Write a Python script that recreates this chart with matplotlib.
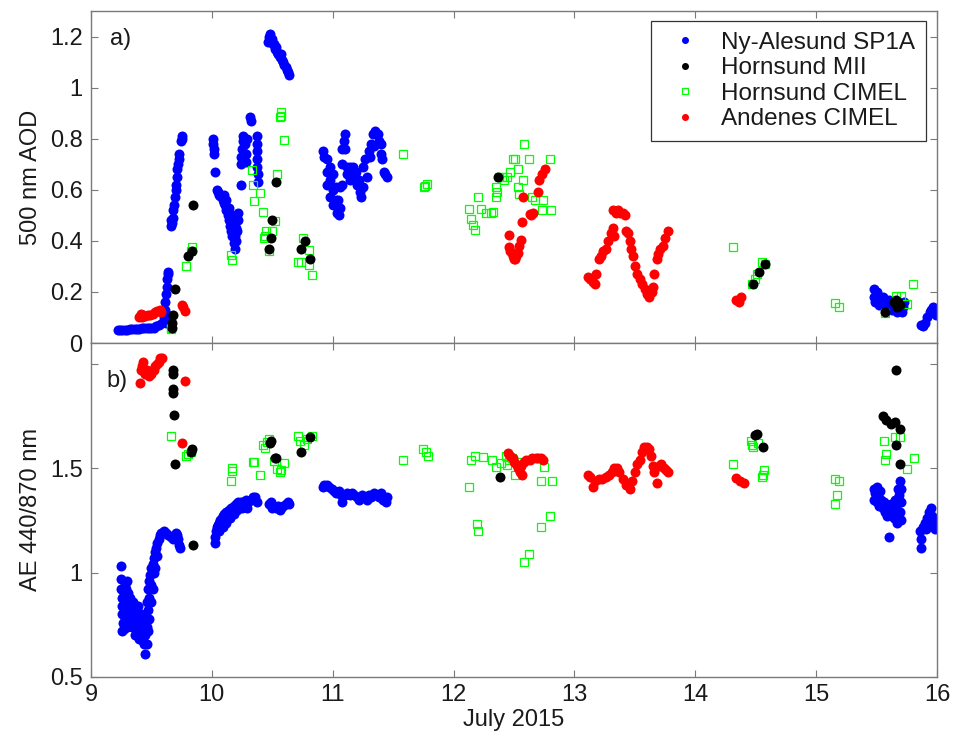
import matplotlib
matplotlib.use('Agg')
import matplotlib.pyplot as plt

plt.rcParams['font.family'] = ['Liberation Sans', 'DejaVu Sans']
plt.rcParams['font.size'] = 17

# (day of July 2015, 500 nm AOD)
ny_aod = [
    (9.22, .05), (9.24, .05), (9.26, .05), (9.28, .05), (9.30, .05), (9.32, .055),
    (9.34, .055), (9.36, .055), (9.38, .055), (9.40, .055), (9.42, .06), (9.44, .06),
    (9.46, .06), (9.48, .06), (9.50, .06), (9.52, .06), (9.54, .065), (9.56, .07),
    (9.585, .08), (9.60, .10), (9.61, .13), (9.615, .16), (9.62, .19), (9.625, .22),
    (9.63, .25), (9.635, .27), (9.64, .28), (9.62, .08), (9.63, .11),
    (9.66, .46), (9.665, .48), (9.67, .47), (9.675, .49), (9.68, .52), (9.69, .54),
    (9.695, .57), (9.70, .60), (9.705, .62), (9.71, .65), (9.715, .68), (9.72, .70),
    (9.725, .72), (9.73, .74), (9.745, .79), (9.75, .81), (9.755, .80),
    (10.01, .80), (10.01, .78), (10.015, .76), (10.02, .74), (10.025, .67),
    (10.04, .60), (10.05, .59), (10.06, .58), (10.07, .575), (10.08, .57), (10.09, .56),
    (10.10, .55), (10.11, .54), (10.12, .52), (10.13, .50), (10.14, .48), (10.15, .46),
    (10.16, .44), (10.17, .42), (10.18, .39), (10.19, .37), (10.20, .40), (10.21, .44),
    (10.215, .48), (10.22, .51), (10.10, .58), (10.12, .56), (10.14, .53), (10.16, .50),
    (10.18, .47), (10.20, .45), (10.19, .42), (10.24, .62),
    (10.24, .70), (10.245, .73), (10.25, .76), (10.255, .79), (10.26, .81), (10.27, .78),
    (10.28, .74), (10.285, .71), (10.29, .80), (10.315, .885), (10.32, .87),
    (10.37, .81), (10.37, .78), (10.375, .75), (10.37, .72), (10.375, .69), (10.38, .66),
    (10.38, .63),
    (10.467, 1.18), (10.475, 1.20), (10.485, 1.21), (10.49, 1.19), (10.50, 1.19),
    (10.505, 1.17), (10.515, 1.17), (10.52, 1.15), (10.53, 1.16), (10.54, 1.14),
    (10.55, 1.13), (10.56, 1.12), (10.57, 1.13), (10.58, 1.11), (10.59, 1.10),
    (10.60, 1.09), (10.61, 1.08), (10.62, 1.07), (10.63, 1.06), (10.64, 1.05),
    (10.92, .75), (10.925, .73), (10.95, .72), (10.95, .67), (10.955, .62),
    (10.975, .69), (10.975, .64), (10.98, .57), (11.00, .66), (11.00, .60), (11.005, .54),
    (11.03, .61), (11.03, .56), (11.035, .51), (11.045, .56), (11.05, .50), (11.06, .61),
    (11.06, .53), (11.075, .70), (11.08, .62), (11.08, .76), (11.09, .79), (11.10, .82),
    (11.10, .76), (11.115, .69), (11.12, .66), (11.14, .69), (11.14, .64), (11.17, .69),
    (11.17, .65), (11.19, .67), (11.20, .62), (11.215, .64), (11.225, .59), (11.23, .57),
    (11.25, .69), (11.25, .61), (11.27, .72), (11.28, .65), (11.30, .75), (11.31, .73),
    (11.32, .78), (11.335, .82), (11.35, .83), (11.36, .82), (11.34, .77), (11.375, .82),
    (11.38, .79), (11.40, .78), (11.40, .74), (11.41, .72), (11.425, .67), (11.43, .66),
    (11.445, .65),
    (15.48, .21), (15.48, .18), (15.49, .16), (15.50, .20), (15.51, .17), (15.52, .15),
    (15.54, .16), (15.55, .18), (15.56, .15), (15.58, .16), (15.59, .14), (15.60, .17),
    (15.62, .15), (15.63, .13), (15.64, .16), (15.66, .14), (15.67, .12), (15.68, .15),
    (15.70, .13), (15.71, .12), (15.72, .14), (15.73, .16),
    (15.87, .07), (15.88, .065), (15.90, .08), (15.92, .10), (15.94, .12), (15.95, .13),
    (15.97, .14), (15.98, .12), (15.99, .11),
]
mii_aod = [
    (9.667, .06), (9.67, .08), (9.68, .11), (9.695, .21), (9.805, .34), (9.833, .36),
    (9.846, .54), (10.47, .37), (10.49, .41), (10.50, .48), (10.53, .63), (10.74, .37),
    (10.77, .40), (10.81, .33), (12.37, .65), (14.48, .23), (14.53, .28), (14.575, .31),
    (15.57, .12), (15.64, .16), (15.66, .17), (15.68, .16), (15.69, .15), (15.67, .14),
]
hor_cimel_aod = [
    (9.665, .06), (9.66, .055), (9.79, .30), (9.833, .377), (9.83, .36), (10.16, .344),
    (10.17, .325), (10.33, .676), (10.34, .618), (10.35, .555), (10.40, .588),
    (10.42, .513), (10.445, .44), (10.43, .41), (10.44, .42), (10.50, .44), (10.52, .478),
    (10.475, .36), (10.535, .663), (10.56, .885), (10.575, .905), (10.57, .89),
    (10.60, .796), (10.756, .41), (10.80, .366), (10.71, .318), (10.74, .318),
    (10.80, .305), (10.83, .265),
    (11.578, .739), (11.755, .609), (11.78, .622), (11.765, .615),
    (12.13, .523), (12.14, .487), (12.16, .461), (12.175, .444), (12.20, .572),
    (12.23, .523), (12.27, .509), (12.31, .51), (12.33, .513), (12.35, .572),
    (12.355, .612), (12.36, .59), (12.377, .65), (12.40, .65), (12.42, .64), (12.44, .65),
    (12.47, .67), (12.49, .72), (12.51, .72), (12.53, .68), (12.535, .61), (12.54, .585),
    (12.575, .637), (12.58, .778), (12.625, .72), (12.65, .57), (12.67, .56),
    (12.73, .52), (12.74, .56), (12.80, .72), (12.81, .52),
    (14.31, .377), (14.47, .233), (14.49, .25), (14.51, .27), (14.55, .318), (14.58, .31),
    (15.16, .158), (15.19, .142), (15.57, .116), (15.66, .184), (15.70, .184),
    (15.75, .153), (15.80, .233),
]
and_cimel_aod = [
    (9.40, .10), (9.41, .115), (9.42, .10), (9.43, .11), (9.45, .105), (9.47, .11),
    (9.49, .11), (9.51, .115), (9.53, .12), (9.55, .125), (9.57, .13), (9.58, .12),
    (9.75, .148), (9.765, .14), (9.777, .127),
    (12.46, .422), (12.455, .377), (12.47, .36), (12.48, .352), (12.49, .34), (12.50, .33),
    (12.51, .33), (12.52, .34), (12.53, .352), (12.54, .38), (12.56, .403), (12.57, .474),
    (12.575, .572), (12.63, .507), (12.66, .51), (12.64, .50), (12.70, .59), (12.71, .637),
    (12.73, .66), (12.755, .683),
    (13.11, .26), (13.13, .25), (13.15, .24), (13.17, .23), (13.18, .27), (13.20, .33),
    (13.22, .34), (13.24, .36), (13.265, .37), (13.28, .40), (13.30, .43), (13.32, .45),
    (13.33, .42), (13.32, .52), (13.34, .51), (13.36, .52), (13.38, .51), (13.40, .51),
    (13.42, .50), (13.43, .44), (13.44, .43), (13.46, .40), (13.47, .37), (13.485, .34),
    (13.50, .30), (13.52, .27), (13.54, .25), (13.56, .23), (13.58, .21), (13.60, .19),
    (13.62, .18), (13.64, .20), (13.65, .22), (13.66, .27), (13.68, .33), (13.69, .35),
    (13.71, .37), (13.73, .38), (13.75, .41), (13.775, .44),
    (14.34, .17), (14.36, .16), (14.38, .18),
]

# (day of July 2015, Angstrom exponent 440/870 nm)
ny_ae = [
    (9.245, 1.03), (9.25, .97), (9.25, .92), (9.255, .88), (9.26, .84), (9.26, .80),
    (9.265, .76), (9.27, .73), (9.28, .94), (9.28, .89), (9.285, .84), (9.29, .80),
    (9.30, .96), (9.30, .86), (9.31, .82), (9.32, .88), (9.32, .78), (9.33, .84),
    (9.34, .80), (9.34, .74), (9.35, .86), (9.36, .76), (9.36, .70), (9.37, .82),
    (9.38, .78), (9.38, .72), (9.39, .84), (9.40, .74), (9.40, .68), (9.41, .80),
    (9.42, .70), (9.43, .76), (9.43, .67), (9.44, .72), (9.445, .61), (9.45, .79),
    (9.46, .86), (9.46, .74), (9.47, .92), (9.47, .82), (9.48, .96), (9.48, .88),
    (9.49, .99), (9.50, 1.02), (9.50, .94), (9.51, 1.04), (9.52, 1.07), (9.52, 1.00),
    (9.53, 1.10), (9.54, 1.12), (9.55, 1.14), (9.56, 1.16), (9.57, 1.18), (9.58, 1.19),
    (9.60, 1.20), (9.62, 1.19), (9.64, 1.18), (9.66, 1.17), (9.68, 1.16), (9.70, 1.19),
    (9.71, 1.18), (9.72, 1.16), (9.73, 1.13), (9.74, 1.12),
    (9.27, .90), (9.29, .92), (9.31, .90), (9.33, .76), (9.35, .78), (9.37, .70),
    (9.39, .74), (9.41, .72), (9.42, .78), (9.44, .66), (9.45, .70), (9.46, .66),
    (9.47, .72), (9.48, .78), (9.49, .86), (9.50, .86), (9.51, .92), (9.53, 1.02),
    (9.55, 1.08), (9.26, .72), (9.28, .78), (9.30, .74),
    (10.026, 1.14), (10.03, 1.17), (10.035, 1.20), (10.04, 1.22), (10.05, 1.23),
    (10.06, 1.24), (10.07, 1.25), (10.08, 1.26), (10.09, 1.27), (10.10, 1.28),
    (10.12, 1.29), (10.14, 1.30), (10.16, 1.31), (10.18, 1.32), (10.20, 1.33),
    (10.22, 1.34), (10.24, 1.34), (10.26, 1.34), (10.28, 1.35), (10.30, 1.34),
    (10.32, 1.35), (10.34, 1.36), (10.36, 1.36), (10.37, 1.34), (10.06, 1.20),
    (10.09, 1.22), (10.12, 1.24), (10.15, 1.26), (10.18, 1.28), (10.21, 1.30),
    (10.25, 1.31), (10.29, 1.31),
    (10.47, 1.33), (10.49, 1.34), (10.51, 1.32), (10.53, 1.31), (10.55, 1.32),
    (10.57, 1.31), (10.59, 1.32), (10.61, 1.33), (10.63, 1.34), (10.64, 1.33),
    (10.50, 1.31), (10.56, 1.30),
    (10.92, 1.41), (10.93, 1.42), (10.95, 1.42), (10.97, 1.41), (10.99, 1.40),
    (11.01, 1.39), (11.03, 1.38), (11.05, 1.39), (11.07, 1.37), (11.08, 1.34),
    (11.10, 1.37), (11.12, 1.38), (11.14, 1.37), (11.16, 1.38), (11.18, 1.37),
    (11.20, 1.36), (11.22, 1.35), (11.24, 1.37), (11.26, 1.36), (11.28, 1.35),
    (11.30, 1.37), (11.32, 1.36), (11.34, 1.38), (11.36, 1.37), (11.38, 1.36),
    (11.40, 1.38), (11.42, 1.35), (11.44, 1.34), (11.45, 1.36),
    (15.48, 1.40), (15.48, 1.35), (15.49, 1.38), (15.50, 1.41), (15.50, 1.34),
    (15.51, 1.37), (15.52, 1.32), (15.53, 1.39), (15.54, 1.35), (15.55, 1.31),
    (15.56, 1.34), (15.57, 1.29), (15.58, 1.32), (15.59, 1.27), (15.60, 1.17),
    (15.60, 1.31), (15.61, 1.28), (15.62, 1.33), (15.63, 1.30), (15.64, 1.26),
    (15.65, 1.35), (15.66, 1.32), (15.67, 1.24), (15.68, 1.40), (15.685, 1.37),
    (15.69, 1.44), (15.69, 1.29), (15.70, 1.34), (15.70, 1.25), (15.705, 1.40),
    (15.86, 1.20), (15.865, 1.16), (15.87, 1.12), (15.88, 1.22), (15.90, 1.24),
    (15.91, 1.21), (15.92, 1.26), (15.93, 1.29), (15.95, 1.31), (15.96, 1.27),
    (15.97, 1.24), (15.98, 1.21), (15.99, 1.25),
]
mii_ae = [
    (9.675, 1.97), (9.675, 1.95), (9.68, 1.88), (9.68, 1.86), (9.69, 1.755), (9.695, 1.52),
    (9.833, 1.59), (9.825, 1.58), (9.846, 1.13), (10.48, 1.62), (10.49, 1.63),
    (10.52, 1.55), (10.53, 1.55), (10.74, 1.58), (10.81, 1.65), (12.38, 1.46),
    (14.49, 1.66), (14.51, 1.665), (14.56, 1.60), (15.55, 1.75), (15.58, 1.73),
    (15.62, 1.71), (15.65, 1.72), (15.69, 1.69), (15.66, 1.97), (15.66, 1.61),
    (15.69, 1.52),
]
hor_cimel_ae = [
    (9.66, 1.655), (9.79, 1.56), (9.80, 1.57), (9.83, 1.58), (10.16, 1.44), (10.17, 1.485),
    (10.17, 1.50), (10.34, 1.53), (10.35, 1.53), (10.40, 1.47), (10.42, 1.61),
    (10.44, 1.595), (10.47, 1.64), (10.46, 1.625), (10.51, 1.535), (10.535, 1.495),
    (10.56, 1.48), (10.57, 1.49), (10.60, 1.525), (10.71, 1.655), (10.73, 1.63),
    (10.76, 1.61), (10.79, 1.64), (10.83, 1.655),
    (11.578, 1.54), (11.745, 1.59), (11.77, 1.58), (11.79, 1.56),
    (12.13, 1.41), (12.14, 1.54), (12.175, 1.56), (12.195, 1.235), (12.20, 1.20),
    (12.24, 1.555), (12.32, 1.54), (12.35, 1.505), (12.39, 1.525), (12.43, 1.56),
    (12.44, 1.515), (12.46, 1.54), (12.48, 1.55), (12.51, 1.47), (12.56, 1.53),
    (12.58, 1.05), (12.625, 1.09), (12.72, 1.22), (12.80, 1.27), (12.72, 1.44),
    (12.815, 1.44), (12.75, 1.505),
    (14.31, 1.52), (14.46, 1.63), (14.47, 1.61), (14.48, 1.60), (14.52, 1.62),
    (14.56, 1.47), (14.57, 1.49), (14.55, 1.46),
    (15.16, 1.45), (15.19, 1.44), (15.17, 1.37), (15.16, 1.33),
    (15.56, 1.63), (15.58, 1.57), (15.57, 1.54), (15.65, 1.65), (15.69, 1.65),
    (15.75, 1.495), (15.81, 1.55),
]
and_cimel_ae = [
    (9.405, 1.91), (9.41, 1.97), (9.42, 1.99), (9.43, 2.01), (9.44, 1.96), (9.45, 1.95),
    (9.46, 1.97), (9.48, 1.94), (9.49, 1.96), (9.50, 1.95), (9.52, 1.97), (9.53, 1.99),
    (9.545, 2.00), (9.56, 2.01), (9.57, 2.03), (9.585, 2.03), (9.777, 1.92), (9.75, 1.62),
    (12.45, 1.575), (12.47, 1.56), (12.49, 1.55), (12.50, 1.53), (12.52, 1.52),
    (12.53, 1.50), (12.55, 1.48), (12.57, 1.47), (12.56, 1.51), (12.58, 1.53),
    (12.60, 1.54), (12.63, 1.54), (12.65, 1.55), (12.68, 1.55), (12.70, 1.55),
    (12.72, 1.55), (12.74, 1.54),
    (13.11, 1.47), (13.13, 1.46), (13.155, 1.41), (13.17, 1.44), (13.20, 1.45),
    (13.23, 1.45), (13.26, 1.46), (13.29, 1.47), (13.31, 1.48), (13.33, 1.50),
    (13.35, 1.50), (13.37, 1.48), (13.40, 1.45), (13.43, 1.42), (13.46, 1.40),
    (13.48, 1.44), (13.50, 1.48), (13.52, 1.52), (13.54, 1.54), (13.56, 1.58),
    (13.575, 1.60), (13.60, 1.60), (13.62, 1.59), (13.63, 1.56), (13.65, 1.51),
    (13.66, 1.48), (13.68, 1.43), (13.70, 1.51), (13.72, 1.52), (13.74, 1.50),
    (13.76, 1.49), (13.77, 1.48),
    (14.34, 1.455), (14.37, 1.44), (14.40, 1.43),
]

labels = ['Ny-Alesund SP1A', 'Hornsund MII', 'Hornsund CIMEL', 'Andenes CIMEL']
AXCOL = '#7a7a7a'
TXTCOL = '#1a1a1a'


def draw(ax, ny, mii, hc, ac):
    h_ny, = ax.plot(*zip(*ny), 'o', color='#0000ff', ms=7.2, mew=0, zorder=2)
    h_hc, = ax.plot(*zip(*hc), 's', mfc='none', mec='#00ff00', ms=5.9, mew=0.9, zorder=3)
    h_ac, = ax.plot(*zip(*ac), 'o', color='#ff0000', ms=7.2, mew=0, zorder=4)
    h_mii, = ax.plot(*zip(*mii), 'o', color='black', ms=7.2, mew=0, zorder=5)
    ax.set_xlim(9, 16)
    ax.set_xticks(range(9, 17))
    ax.tick_params(direction='in', top=True, right=True, length=5, width=0.8,
                   color=AXCOL, labelcolor=TXTCOL, pad=6)
    ax.tick_params(axis='x', pad=5)
    for s in ax.spines.values():
        s.set_color(AXCOL)
        s.set_linewidth(1.0)
    return [h_ny, h_mii, h_hc, h_ac]


fig = plt.figure(figsize=(9.54, 7.41), dpi=100)
ax1 = fig.add_axes([0.0954, 0.5371, 0.8868, 0.4480])
ax2 = fig.add_axes([0.0954, 0.0864, 0.8868, 0.4507])

handles = draw(ax1, ny_aod, mii_aod, hor_cimel_aod, and_cimel_aod)
ax1.set_ylim(0, 1.3)
ax1.set_yticks([0, 0.2, 0.4, 0.6, 0.8, 1.0, 1.2])
ax1.set_yticklabels(['0', '0.2', '0.4', '0.6', '0.8', '1', '1.2'])
ax1.set_xticklabels([])
ax1.set_ylabel('500 nm AOD', color=TXTCOL)
ax1.yaxis.set_label_coords(-0.058, 0.5)
ax1.text(9.157, 1.19, 'a)', va='center', ha='left', color=TXTCOL)
leg = ax1.legend(handles, labels, loc='upper right', bbox_to_anchor=(0.987, 0.970),
                 numpoints=1, markerscale=0.7, fancybox=False, framealpha=1,
                 edgecolor='#333333', borderpad=0.45, labelspacing=0.14,
                 handlelength=1.95, handletextpad=0.5, borderaxespad=0,
                 prop={'size': 17.5})
leg.get_frame().set_linewidth(0.9)
for t in leg.get_texts():
    t.set_color(TXTCOL)

draw(ax2, ny_ae, mii_ae, hor_cimel_ae, and_cimel_ae)
ax2.set_ylim(0.5, 2.1)
ax2.set_yticks([0.5, 1.0, 1.5, 2.0])
ax2.set_yticklabels(['0.5', '1', '1.5', ''])
ax2.set_xticklabels([str(d) for d in range(9, 17)])
ax2.set_ylabel('AE 440/870 nm', color=TXTCOL)
ax2.yaxis.set_label_coords(-0.058, 0.5)
ax2.set_xlabel('July 2015', color=TXTCOL, labelpad=2)
ax2.text(9.13, 1.92, 'b)', va='center', ha='left', color=TXTCOL)

fig.savefig('out.png', dpi=100)
